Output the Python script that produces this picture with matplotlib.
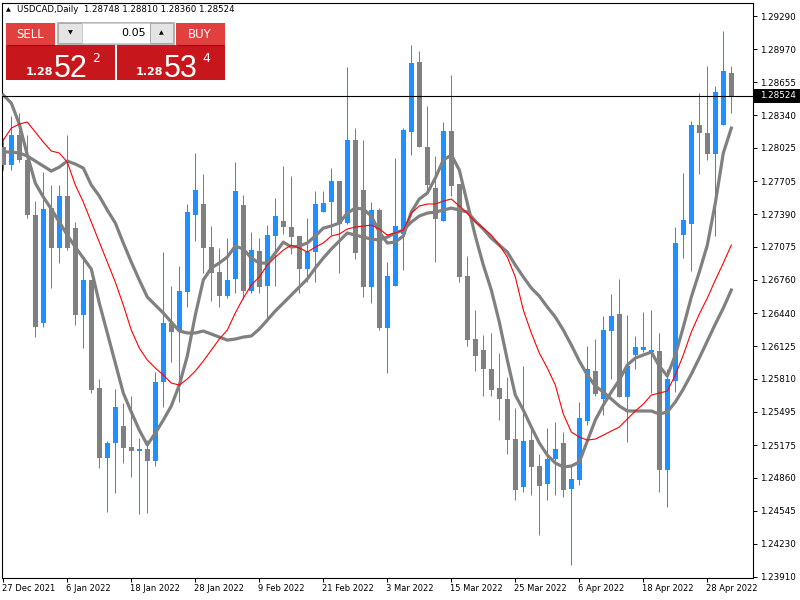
import numpy as np
import matplotlib
matplotlib.use("Agg")
import matplotlib.pyplot as plt
import matplotlib.transforms as mtransforms
from matplotlib.patches import Rectangle

SYMBOL = "USDCAD,Daily"

# daily candles, 27 Dec 2021 .. 3 May 2022
opens = [
    1.28033, 1.27861, 1.28148, 1.27909, 1.27381, 1.26345, 1.27448, 1.27065, 1.27563, 1.27256,
    1.26422, 1.26758, 1.25722, 1.25051, 1.25195, 1.25357, 1.25156, 1.25118, 1.25137, 1.25022,
    1.25780, 1.26345, 1.26269, 1.26643, 1.27381, 1.27487, 1.27074, 1.26835, 1.26604, 1.26768,
    1.27477, 1.26652, 1.27036, 1.26700, 1.27180, 1.27324, 1.27266, 1.27180, 1.26863, 1.27026,
    1.27410, 1.27506, 1.27707, 1.27305, 1.28100, 1.27621, 1.26691, 1.27429, 1.26297, 1.26700,
    1.27199, 1.28177, 1.28848, 1.28033, 1.27640, 1.27324, 1.28187, 1.27678, 1.26796, 1.26192,
    1.26086, 1.25904, 1.25722, 1.25617, 1.25233, 1.24773, 1.25223, 1.24974, 1.24802, 1.25041,
    1.25195, 1.24754, 1.24840, 1.25405, 1.25885, 1.25617, 1.26269, 1.26432, 1.25636, 1.26039,
    1.26086, 1.26067, 1.26077, 1.24936, 1.25789, 1.27189, 1.27295, 1.28244, 1.28168, 1.27966,
    1.28244, 1.28748,
]
highs = [
    1.28120, 1.28331, 1.28359, 1.28148, 1.27515, 1.27794, 1.27669, 1.27669, 1.28148, 1.27314,
    1.26978, 1.26758, 1.25809, 1.25214, 1.25713, 1.25578, 1.25645, 1.25243, 1.25223, 1.25876,
    1.27026, 1.26700, 1.26892, 1.27487, 1.27976, 1.27774, 1.27276, 1.27065, 1.27160, 1.27889,
    1.27573, 1.27218, 1.27160, 1.27285, 1.27544, 1.27851, 1.27755, 1.27180, 1.27352, 1.27611,
    1.27611, 1.27832, 1.27707, 1.28800, 1.28215, 1.28100, 1.27506, 1.27448, 1.26930, 1.27928,
    1.28215, 1.29011, 1.28954, 1.28426, 1.27947, 1.28273, 1.28724, 1.27678, 1.26988, 1.26470,
    1.26230, 1.26250, 1.26058, 1.25828, 1.25530, 1.25933, 1.25329, 1.25089, 1.25338, 1.25396,
    1.25300, 1.24974, 1.25588, 1.26125, 1.26192, 1.26413, 1.26624, 1.26768, 1.26422, 1.26221,
    1.26451, 1.26470, 1.26250, 1.25904, 1.27266, 1.27784, 1.28283, 1.28551, 1.28810, 1.28618,
    1.29146, 1.28810,
]
lows = [
    1.27813, 1.27813, 1.27889, 1.27352, 1.26211, 1.26307, 1.26681, 1.26921, 1.27045, 1.26326,
    1.26106, 1.25674, 1.24955, 1.24533, 1.24715, 1.25003, 1.24869, 1.24514, 1.24523, 1.24974,
    1.25540, 1.25972, 1.25588, 1.26499, 1.27132, 1.26825, 1.26556, 1.26499, 1.26585, 1.26633,
    1.26576, 1.26633, 1.26633, 1.26374, 1.26700, 1.27199, 1.27007, 1.26633, 1.26739, 1.26739,
    1.27410, 1.27189, 1.26825, 1.27295, 1.26959, 1.26595, 1.26537, 1.26278, 1.25866, 1.26700,
    1.26854, 1.27957, 1.28033, 1.27592, 1.26930, 1.27324, 1.27563, 1.26739, 1.26125, 1.25885,
    1.25645, 1.25645, 1.25415, 1.25089, 1.24648, 1.24725, 1.24696, 1.24312, 1.24648, 1.24696,
    1.24677, 1.24025, 1.24792, 1.25367, 1.25645, 1.25463, 1.25809, 1.25636, 1.25204, 1.25904,
    1.26067, 1.25674, 1.24725, 1.24581, 1.25684, 1.26969, 1.26844, 1.27774, 1.27909, 1.27180,
    1.28244, 1.28360,
]
closes = [
    1.27861, 1.28148, 1.27909, 1.27381, 1.26307, 1.27439, 1.27065, 1.27563, 1.27065, 1.26422,
    1.26758, 1.25703, 1.25051, 1.25195, 1.25540, 1.25147, 1.25118, 1.25137, 1.25022, 1.25780,
    1.26345, 1.26259, 1.26652, 1.27410, 1.27621, 1.27065, 1.26825, 1.26604, 1.26758, 1.27611,
    1.26652, 1.27045, 1.26691, 1.27189, 1.27372, 1.27266, 1.27170, 1.26863, 1.27026, 1.27487,
    1.27496, 1.27707, 1.27295, 1.28100, 1.27017, 1.26691, 1.27429, 1.26297, 1.26796, 1.27276,
    1.28196, 1.28839, 1.28033, 1.27669, 1.27343, 1.28187, 1.27659, 1.26787, 1.26182, 1.26029,
    1.25904, 1.25703, 1.25617, 1.25223, 1.24744, 1.25214, 1.24965, 1.24783, 1.25041, 1.25137,
    1.24744, 1.24849, 1.25434, 1.25904, 1.25665, 1.26278, 1.26413, 1.25636, 1.25933, 1.26115,
    1.26115, 1.26086, 1.24936, 1.25809, 1.27113, 1.27333, 1.28244, 1.28168, 1.27966, 1.28561,
    1.28762, 1.28524,
]

# moving averages (one value per bar)
ma_fast = [
    1.28532, 1.28455, 1.28254, 1.27957, 1.27688, 1.27554, 1.27439, 1.27314, 1.27189, 1.27074,
    1.26969, 1.26863, 1.26537, 1.26250, 1.25962, 1.25674, 1.25492, 1.25319, 1.25176, 1.25290,
    1.25415, 1.25550, 1.25751, 1.26029, 1.26422, 1.26758, 1.26873, 1.26921, 1.26979, 1.27084,
    1.27055, 1.26969, 1.26921, 1.26921, 1.27017, 1.27122, 1.27074, 1.27084, 1.27113, 1.27180,
    1.27256, 1.27276, 1.27305, 1.27400, 1.27448, 1.27439, 1.27372, 1.27218, 1.27113, 1.27122,
    1.27180, 1.27410, 1.27535, 1.27592, 1.27736, 1.27909, 1.27957, 1.27813, 1.27496, 1.27180,
    1.26902, 1.26662, 1.26355, 1.25991, 1.25655, 1.25511, 1.25348, 1.25195, 1.25079, 1.25003,
    1.24965, 1.24974, 1.25013, 1.25214, 1.25415, 1.25559, 1.25684, 1.25799, 1.25943, 1.26010,
    1.26039, 1.26067, 1.25933, 1.25837, 1.26039, 1.26307, 1.26595, 1.26835, 1.27093, 1.27496,
    1.27976, 1.28215,
]
ma_red = [
    1.28100, 1.28215, 1.28254, 1.28273, 1.28177, 1.28081, 1.27995, 1.27976, 1.27889, 1.27669,
    1.27506, 1.27314, 1.27122, 1.26930, 1.26739, 1.26518, 1.26278, 1.26106, 1.25991, 1.25914,
    1.25847, 1.25770, 1.25751, 1.25809, 1.25885, 1.25981, 1.26086, 1.26192, 1.26278, 1.26442,
    1.26585, 1.26710, 1.26787, 1.26902, 1.26978, 1.27045, 1.27093, 1.27065, 1.27026, 1.27074,
    1.27113, 1.27180, 1.27199, 1.27247, 1.27266, 1.27276, 1.27285, 1.27247, 1.27189, 1.27209,
    1.27237, 1.27400, 1.27468, 1.27487, 1.27487, 1.27515, 1.27535, 1.27468, 1.27400, 1.27314,
    1.27256, 1.27189, 1.27093, 1.26978, 1.26787, 1.26470, 1.26250, 1.26058, 1.25914, 1.25751,
    1.25473, 1.25300, 1.25252, 1.25223, 1.25233, 1.25271, 1.25310, 1.25348, 1.25425, 1.25502,
    1.25569, 1.25655, 1.25674, 1.25693, 1.25847, 1.26039, 1.26259, 1.26432, 1.26585, 1.26758,
    1.26921, 1.27093,
]
ma_slow = [
    1.27986, 1.27986, 1.27976, 1.27947, 1.27899, 1.27851, 1.27803, 1.27841, 1.27899, 1.27870,
    1.27832, 1.27669, 1.27563, 1.27429, 1.27305, 1.27113, 1.26930, 1.26758, 1.26595, 1.26518,
    1.26442, 1.26355, 1.26269, 1.26250, 1.26250, 1.26269, 1.26240, 1.26211, 1.26182, 1.26192,
    1.26211, 1.26221, 1.26288, 1.26374, 1.26461, 1.26537, 1.26614, 1.26691, 1.26768, 1.26873,
    1.26969, 1.27055, 1.27132, 1.27209, 1.27189, 1.27170, 1.27151, 1.27141, 1.27170, 1.27209,
    1.27237, 1.27314, 1.27372, 1.27400, 1.27410, 1.27429, 1.27448, 1.27429, 1.27410, 1.27324,
    1.27247, 1.27160, 1.27093, 1.27026, 1.26902, 1.26787, 1.26681, 1.26604, 1.26499, 1.26403,
    1.26278, 1.26135, 1.25981, 1.25847, 1.25741, 1.25684, 1.25617, 1.25550, 1.25502, 1.25502,
    1.25502, 1.25502, 1.25473, 1.25492, 1.25588, 1.25713, 1.25856, 1.26010, 1.26173, 1.26336,
    1.26489, 1.26662,
]

date_labels = ["27 Dec 2021", "6 Jan 2022", "18 Jan 2022", "28 Jan 2022", "9 Feb 2022",
               "21 Feb 2022", "3 Mar 2022", "15 Mar 2022", "25 Mar 2022", "6 Apr 2022",
               "18 Apr 2022", "28 Apr 2022"]
date_step = 8

price_ticks = [1.29290, 1.28970, 1.28655, 1.28340, 1.28025, 1.27705, 1.27390, 1.27075,
               1.26760, 1.26440, 1.26125, 1.25810, 1.25495, 1.25175, 1.24860, 1.24545,
               1.24230, 1.23910]

bid, ask = 1.28522, 1.28534
lot = "0.05"

BULL = "#1e90ff"
BEAR = "#808080"
MA_GRAY = "#808080"
MA_RED = "#ff0000"

fig = plt.figure(figsize=(8, 6), dpi=100)
ax = fig.add_axes([2 / 800, 22 / 600, 751 / 800, 575.5 / 600])

o, h, l, c = (np.array(v) for v in (opens, highs, lows, closes))
x = np.arange(len(o))
cols = np.where(c >= o, BULL, BEAR)

ax.vlines(x, l, h, colors=cols, linewidth=0.75, zorder=2)
body = np.maximum(np.abs(c - o), 0.0001)
ax.bar(x, body, bottom=np.minimum(o, c), width=0.625, color=cols, linewidth=0, zorder=3)

ax.plot(x, ma_slow, color=MA_GRAY, lw=2.3, zorder=4)
ax.plot(x, ma_fast, color=MA_GRAY, lw=2.3, zorder=4)
ax.plot(x, ma_red, color=MA_RED, lw=0.8, zorder=5)

ax.axhline(c[-1], color="black", lw=0.8, zorder=6)

ax.set_xlim(-0.1625, 93.71)
ax.set_ylim(1.239004, 1.294195)

for sp in ax.spines.values():
    sp.set_linewidth(0.8)
    sp.set_color("black")

ax.yaxis.tick_right()
ax.set_yticks(price_ticks)
ax.set_yticklabels([f"{v:.5f}" for v in price_ticks], fontsize=6.3)
ax.tick_params(axis="y", direction="out", length=3, width=0.7, pad=2.2)

xt = np.arange(len(date_labels)) * date_step
ax.set_xticks(xt)
ax.set_xticklabels(date_labels, fontsize=6.0, ha="left")
ax.tick_params(axis="x", direction="out", length=3, width=0.7, pad=1.5)
shift = mtransforms.ScaledTranslation(-1.5 / 100, 0, fig.dpi_scale_trans)
for lab in ax.get_xticklabels():
    lab.set_transform(lab.get_transform() + shift)

# overlay in pixel coordinates for the terminal widgets
ov = fig.add_axes([0, 0, 1, 1], zorder=10)
ov.set_xlim(0, 800)
ov.set_ylim(600, 0)
ov.axis("off")


def box(x0, y0, x1, y1, fc, ec="none", lw=0):
    ov.add_patch(Rectangle((x0, y0), x1 - x0, y1 - y0, facecolor=fc, edgecolor=ec, linewidth=lw))


# header line
ov.text(8, 10, "▲", fontsize=4.5, ha="center", va="center", color="black")
ov.text(17, 10, f"{SYMBOL}  {o[-1]:.5f} {h[-1]:.5f} {l[-1]:.5f} {c[-1]:.5f}",
        fontsize=6.2, va="center", ha="left", color="black")

# one-click trading panel
box(6, 45, 115, 80, "#c8161d")
box(117, 45, 225, 80, "#c8161d")
box(6, 23, 55, 45, "#e2403f")
box(176, 23, 225, 45, "#e2403f")
ov.plot([8, 53], [45, 45], color="#9e0b0f", lw=0.8)
ov.plot([178, 223], [45, 45], color="#9e0b0f", lw=0.8)
box(57, 22, 174, 44, "#f0f0f0", ec="#b4b4b4", lw=0.7)
box(58, 23, 82, 43, "#e4e4e4", ec="#a0a0a0", lw=0.6)
box(82, 23, 150, 43, "white", ec="#c8c8c8", lw=0.6)
box(150, 23, 173, 43, "#e4e4e4", ec="#a0a0a0", lw=0.6)
ov.text(70, 33, "▼", fontsize=4.5, ha="center", va="center", color="black")
ov.text(161.5, 33, "▲", fontsize=4.5, ha="center", va="center", color="black")
ov.text(146, 33.5, lot, fontsize=8, ha="right", va="center", color="black")
ov.text(30, 34.5, "SELL", fontsize=8.5, ha="center", va="center", color="white")
ov.text(200, 34.5, "BUY", fontsize=8.5, ha="center", va="center", color="white")

narrow = ["Liberation Sans Narrow", "Liberation Sans"]
for px, quote in ((26, bid), (136, ask)):
    s = f"{quote:.5f}"
    ov.text(px, 75, s[:4], fontsize=8, fontweight="bold", color="white", va="baseline")
    ov.text(px + 28, 77, s[4:6], fontsize=22, family=narrow, color="white", va="baseline")
    ov.text(px + 66, 62, s[6], fontsize=9, color="white", va="baseline")

# current price marker on the scale
box(754, 89, 800, 102.5, "black")
ov.text(760, 95.8, f"{c[-1]:.5f}", fontsize=6.3, color="white", va="center", ha="left")

fig.savefig("out.png", dpi=100)
